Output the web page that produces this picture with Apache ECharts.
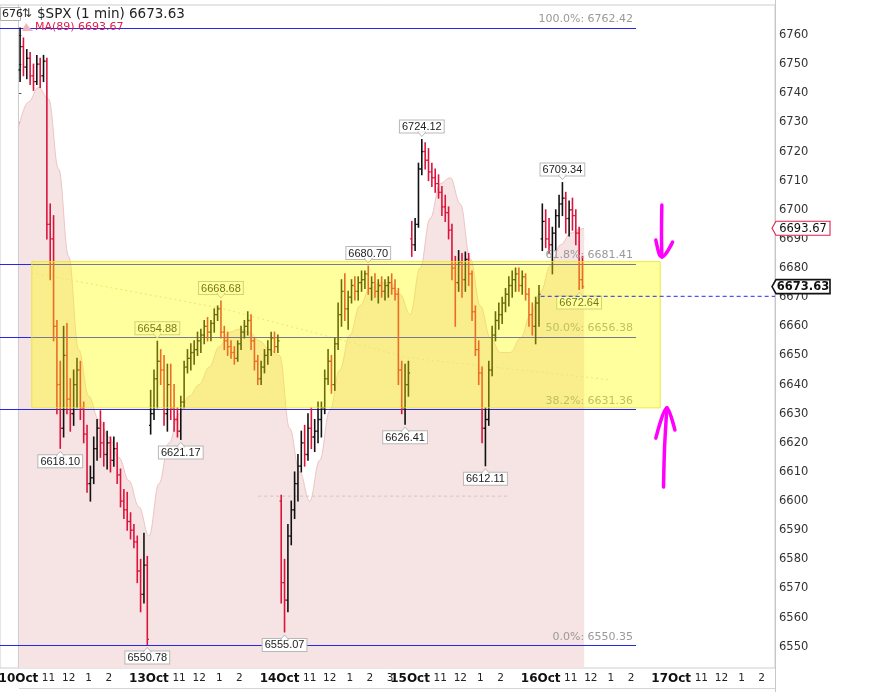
<!DOCTYPE html>
<html><head><meta charset="utf-8">
<script src="https://cdn.jsdelivr.net/npm/echarts@6/dist/echarts.min.js"></script>
<style>html,body{margin:0;padding:0;background:#fff}#c{width:881px;height:692px}</style>
</head><body><div id="c"></div>
<script>
// ---------------- DATA ----------------
const days = ['10Oct','13Oct','14Oct','15Oct','16Oct','17Oct'];
const hourLabels = ['11','12','1','2','3'];
const hourOffsets = [1.5, 2.5, 3.5, 4.5, 5.5];     // hours after the 9:30 open
const daysShowing3 = ['14Oct'];
const yTicks = [6550,6560,6570,6580,6590,6600,6610,6620,6630,6640,6650,6660,6670,6680,6690,6700,6710,6720,6730,6740,6750,6760];

// 10-minute OHLC bars: [open, high, low, close]
const bars10Oct = [
 [6748,6762.4,6744,6756],[6756,6759,6746,6749],[6749,6755,6745,6752],[6752,6754,6743,6746],
 [6746,6750,6741,6744],[6744,6753,6743,6750],[6750,6752,6742,6746],[6746,6753,6744,6751],
 [6751,6752,6690,6695],[6695,6702,6676,6690],[6690,6698,6655,6660],[6660,6662,6630,6640],
 [6640,6648,6618.10,6625],[6625,6660,6622,6650],[6650,6661,6630,6635],[6635,6642,6624,6630],
 [6630,6645,6626,6640],[6640,6649,6632,6645],[6645,6648,6628,6632],[6632,6634,6620,6623],
 [6623,6626,6603,6606],[6606,6612,6600,6608],[6608,6622,6606,6618],[6618,6628,6614,6625],
 [6625,6631,6615,6620],[6620,6627,6612,6616],[6616,6624,6611,6620],[6620,6622,6610,6614],
 [6614,6622,6612,6618],[6618,6620,6606,6609],[6609,6611,6598,6600],[6600,6604,6594,6597],
 [6597,6603,6590,6593],[6593,6596,6587,6590],[6590,6592,6584,6586],[6586,6588,6572,6576],
 [6576,6580,6562,6568],[6568,6589,6565,6578],[6578,6581,6550.78,6552.5]
];
const bars13Oct = [
 [6626,6638,6623,6630],[6630,6645,6628,6642],[6642,6654.88,6632,6648],[6648,6652,6640,6645],
 [6645,6650,6626,6630],[6630,6647,6624,6640],[6640,6647,6628,6632],[6632,6640,6624,6628],
 [6628,6632,6622,6624],[6624,6636,6621.17,6634],[6634,6648,6632,6646],[6646,6652,6644,6649],
 [6649,6654,6645,6651],[6651,6655,6647,6652],[6652,6658,6650,6655],[6655,6659,6651,6657],
 [6657,6662,6654,6660],[6660,6663,6655,6658],[6658,6662,6655,6661],[6661,6666,6658,6664],
 [6664,6667,6662,6666],[6666,6668.68,6656,6658],[6658,6660,6652,6655],[6655,6658,6650,6653],
 [6653,6655,6649,6651],[6651,6653,6647,6649],[6649,6655,6648,6654],[6654,6660,6652,6658],
 [6658,6662,6656,6660],[6660,6665,6657,6662],[6662,6664,6652,6655],[6655,6656,6645,6648],
 [6648,6650,6640,6642],[6642,6648,6640,6646],[6646,6652,6644,6650],[6650,6655,6647,6652],
 [6652,6658,6650,6656],[6656,6658,6651,6653],[6653,6657,6651,6655]
];
const bars14Oct = [
 [6600,6602,6565,6572],[6572,6580,6555.07,6566],[6566,6592,6562,6588],[6588,6600,6585,6597],
 [6597,6610,6594,6606],[6606,6616,6600,6612],[6612,6624,6610,6620],[6620,6626,6612,6616],
 [6616,6630,6614,6625],[6625,6632,6618,6622],[6622,6628,6617,6624],[6624,6634,6620,6628],
 [6628,6634,6622,6632],[6632,6645,6630,6642],[6642,6652,6640,6648],[6648,6650,6637,6640],
 [6640,6656,6638,6654],[6654,6668,6652,6664],[6664,6676,6660,6672],[6672,6678,6662,6666],
 [6666,6672,6659,6670],[6670,6676,6668,6674],[6674,6677,6669,6672],[6672,6677,6669,6675],
 [6675,6679,6672,6676],[6676,6679,6673,6678],[6678,6680.70,6671,6673],[6673,6677,6669,6675],
 [6675,6678,6670,6672],[6672,6676,6668,6674],[6674,6677,6670,6672],[6672,6676,6669,6674],
 [6674,6677,6670,6675],[6675,6678,6671,6673],[6673,6676,6669,6671],[6671,6673,6640,6645],
 [6645,6648,6630,6632],[6632,6647,6626.41,6640],[6640,6648,6636,6644]
];
const bars15Oct = [
 [6690,6696,6684,6688],[6688,6697,6686,6695],[6695,6716,6694,6714],[6714,6724.12,6712,6720],
 [6720,6723,6714,6717],[6717,6721,6710,6713],[6713,6716,6708,6711],[6711,6714,6706,6709],
 [6709,6712,6704,6706],[6706,6708,6698,6701],[6701,6705,6696,6699],[6699,6701,6690,6693],
 [6693,6695,6676,6680],[6680,6684,6660,6675],[6675,6686,6672,6682],[6682,6685,6670,6676],
 [6676,6685.5,6672,6683],[6683,6685,6674,6678],[6678,6679,6662,6665],[6665,6667,6650,6652],
 [6652,6655,6640,6644],[6644,6646,6620,6625],[6625,6632,6612.11,6628],[6628,6648,6626,6645],
 [6645,6660,6643,6657],[6657,6665,6655,6662],[6662,6668,6659,6664],[6664,6670,6661,6668],
 [6668,6673,6665,6671],[6671,6677,6667,6674],[6674,6679,6670,6676],[6676,6680,6672,6678],
 [6678,6680,6672,6674],[6674,6679,6671,6677],[6677,6678,6669,6671],[6671,6673,6660,6664],
 [6664,6668,6657,6660],[6660,6670,6654,6668],[6668,6674,6660,6671]
];
const bars16Oct = [
 [6690,6702,6686,6696],[6696,6700,6687,6690],[6690,6697,6685,6688],[6688,6694,6678,6692],
 [6692,6700,6686,6698],[6698,6705,6694,6702],[6702,6709.34,6698,6704],[6704,6706,6692,6697],
 [6697,6703,6691,6700],[6700,6704,6693,6698],[6698,6700,6688,6692],[6692,6694,6672.64,6676],
 [6676,6684,6673,6673.63]
];

// MA(89) read at half-hour marks: [minutes after open, value]
const ma10Oct = [[0,6728],[30,6737],[60,6742],[90,6738],[120,6714],[150,6684],[180,6652],[210,6636],[240,6628],[270,6622],[300,6615],[330,6607],[360,6598]];
const ma13Oct = [[0,6588],[30,6606],[60,6620],[90,6630],[120,6636],[150,6640],[180,6646],[210,6653],[240,6658],[270,6659],[300,6658],[330,6655],[360,6652]];
const ma14Oct = [[0,6650],[30,6625],[60,6610],[90,6600],[120,6614],[150,6631],[180,6645],[210,6657],[240,6667],[270,6673],[300,6675],[330,6675],[360,6671]];
const ma15Oct = [[0,6664],[30,6680],[60,6697],[90,6709],[120,6711],[150,6702],[180,6683],[210,6667],[240,6656],[270,6651],[300,6651],[330,6656],[360,6664]];
const ma16Oct = [[0,6672],[30,6681],[60,6688],[90,6692],[120,6693.4],[130,6693.67]];

// Fibonacci retracement
const fibLevels = ['100.0%','61.8%','50.0%','38.2%','0.0%'];
const fibValues = [6762.42, 6681.41, 6656.38, 6631.36, 6550.35];
const fibEnd = ['16Oct', 285];

// annotated highs / lows: [day, minutes after open, value, 1 = label below]
const callouts = [
 ['10Oct',125,6618.10,1],['10Oct',385,6550.78,1],['13Oct',25,6654.88,0],['13Oct',95,6621.17,1],
 ['13Oct',215,6668.68,0],['14Oct',15,6555.07,1],['14Oct',265,6680.70,0],['14Oct',375,6626.41,1],
 ['15Oct',35,6724.12,0],['15Oct',225,6612.11,1],['16Oct',65,6709.34,0],['16Oct',115,6672.64,1]
];

// zone, drawn lines
const zoneStart = ['10Oct', 40], zoneEnd = ['16Oct', 357];
const zoneLow = 6632.0, zoneHigh = 6682.2;
const lastPrice = 6673.63, maLast = 6693.67;
const dashedLevel = 6670.3, dashedStart = ['16Oct', 0];
const greyLevel = 6601.7, greyStart = ['13Oct', 326], greyEnd = ['15Oct', 299];
const trendPts = [['10Oct',40,6678.3],['13Oct',212,6666.3],['15Oct',0,6649.1],['16Oct',208,6641.6]];
// hand-drawn magenta arrows: [day, minutes, value]
const arrowDownShaft = [['16Oct',362,6701.6],['16Oct',361,6692],['16Oct',362,6683.8]];
const arrowDownHead  = [['16Oct',344,6689.6],['16Oct',355,6684.5],['16Oct',362,6683.8],['16Oct',394,6688.9]];
const arrowUpShaft   = [['16Oct',367,6604.8],['16Oct',370,6618],['16Oct',377,6632.0]];
const arrowUpHead    = [['16Oct',344,6621.6],['16Oct',377,6632.0],['16Oct',401,6624.4]];
const viewStart = ['10Oct', -55], viewEnd = ['17Oct', 310];
const yMin = 6542.7, yMax = 6770.3;

// ---------------- BUILD ----------------
const SESSION_H = 6.5;
const tOf = (d, m) => days.indexOf(d) * SESSION_H + m / 60;
const xMin = tOf(...viewStart), xMax = tOf(...viewEnd);
const barSets = [['10Oct',bars10Oct],['13Oct',bars13Oct],['14Oct',bars14Oct],['15Oct',bars15Oct],['16Oct',bars16Oct]];
const barData = [];
barSets.forEach(([d, arr]) => arr.forEach((b, i) => barData.push([tOf(d, i*10+5), b[0], b[1], b[2], b[3]])));
const maSets = [['10Oct',ma10Oct],['13Oct',ma13Oct],['14Oct',ma14Oct],['15Oct',ma15Oct],['16Oct',ma16Oct]];
const maData = [];
maSets.forEach(([d, arr]) => arr.forEach(p => maData.push([tOf(d, p[0]), p[1]])));

const xTicks = [];
days.forEach((d, di) => {
  xTicks.push({v: di*SESSION_H, text: d, day: true});
  hourLabels.forEach((h, hi) => {
    if (h === '3' && !daysShowing3.includes(d)) return;
    xTicks.push({v: di*SESSION_H + hourOffsets[hi], text: h, day: false});
  });
});
const xTickVals = xTicks.map(t => t.v);

const toPts = arr => arr.map(p => [tOf(p[0], p[1]), p[2]]);
const arrowSeries = [arrowDownShaft, arrowDownHead, arrowUpShaft, arrowUpHead].map(a => ({
  type:'line', data: toPts(a), symbol:'none', smooth:0.3, silent:true, z:12,
  lineStyle:{color:'#ff00ff', width:3.5, cap:'round', join:'round'}
}));

const FONT = 'DejaVu Sans';
const chart = echarts.init(document.getElementById('c'), null, {renderer:'canvas'});
chart.setOption({
  animation:false,
  backgroundColor:'#fff',
  grid:{left:0, right:106, top:5, bottom:24, containLabel:false, outerBoundsMode:'none',
        show:true, borderColor:'#cdcdcd', borderWidth:1},
  xAxis:{type:'value', min:xMin, max:xMax,
    axisLine:{show:false}, axisTick:{show:false}, splitLine:{show:false},
    axisLabel:{customValues:xTickVals, margin:5, hideOverlap:false,
      formatter:(v)=>{ const t = xTicks.find(k=>Math.abs(k.v-v)<1e-6); if(!t) return ''; return t.day ? '{d|'+t.text+'}' : '{h|'+t.text+'}'; },
      rich:{d:{fontFamily:FONT, fontWeight:'bold', fontSize:12, color:'#111'}, h:{fontFamily:FONT, fontSize:10.5, color:'#222'}}}
  },
  yAxis:{type:'value', position:'right', min:yMin, max:yMax,
    axisLine:{show:true, lineStyle:{color:'#c8c8c8'}},
    axisTick:{show:true, customValues:yTicks, length:3, lineStyle:{color:'#555'}},
    axisLabel:{customValues:yTicks, margin:4, fontFamily:FONT, fontSize:11.5, color:'#333', formatter:(v)=>String(v)},
    splitLine:{show:false}
  },
  graphic:[
    {type:'line', shape:{x1:775.5,y1:0,x2:775.5,y2:692}, style:{stroke:'#c8c8c8'}, silent:true},
    {type:'line', shape:{x1:19,y1:688.5,x2:775,y2:688.5}, style:{stroke:'#d4d4d4'}, silent:true},
    {type:'rect', shape:{x:0.5,y:7.5,width:20,height:13}, style:{fill:'#fff', stroke:'#b0b0b0'}, z:100},
    {type:'text', x:2, y:14, style:{text:'676', font:'11px "DejaVu Sans"', fill:'#222', verticalAlign:'middle'}, z:101},
    {type:'text', x:22, y:14, style:{text:'⇅', font:'12px "DejaVu Sans"', fill:'#333', verticalAlign:'middle'}, z:101},
    {type:'text', x:37, y:14, style:{text:'$SPX (1 min) 6673.63', font:'13.5px "DejaVu Sans"', fill:'#222', verticalAlign:'middle'}, z:101},
    {type:'polygon', shape:{points:[[22,31],[26,23],[29,27],[33,31]]}, style:{fill:'#f3b4c0'}, z:101},
    {type:'text', x:35, y:27, style:{text:'MA(89) 6693.67', font:'11px "DejaVu Sans"', fill:'#e0204e', verticalAlign:'middle'}, z:101}
  ],
  series:[
    // MA(89) area
    {type:'line', data:maData, smooth:0.4, smoothMonotone:'x', symbol:'none', silent:true, z:1,
     lineStyle:{color:'#efc3c3', width:1}, areaStyle:{color:'#f6e3e3', opacity:1, origin:'start'}},
    // left session start line
    {type:'line', data:[[0,yMin],[0,yMax]], symbol:'none', silent:true, z:2, lineStyle:{color:'#cfcfcf', width:1}},
    // fib lines
    {type:'line', data:[], silent:true, z:2,
     markLine:{silent:true, z:3, symbol:['none','none'], animation:false,
       data: fibValues.map((v,i)=>[
         {coord:[xMin, v], lineStyle:{color:'#2626ee', width:1, type:'solid'},
          label:{show:true, position:'insideEndTop', distance:3, formatter: fibLevels[i]+': '+v.toFixed(2), color:'#999', fontFamily:FONT, fontSize:11}},
         {coord:[tOf(...fibEnd), v]}
       ])}},
    // grey dashed
    {type:'line', data:[[tOf(...greyStart), greyLevel],[tOf(...greyEnd), greyLevel]], symbol:'none', silent:true, z:2,
     lineStyle:{color:'#cfc4c4', width:1, type:[3,3]}},
    // faint trend
    {type:'line', data:toPts(trendPts), symbol:'none', silent:true, z:2,
     lineStyle:{color:'#e2d9b0', width:1, type:[2,3]}},
    // price bars
    {type:'custom', data:barData, z:3, silent:true, encode:{x:0, y:[1,2,3,4]},
     renderItem:(params, api)=>{
       const t=api.value(0), o=api.value(1), h=api.value(2), l=api.value(3), c=api.value(4);
       const pH=api.coord([t,h]), pL=api.coord([t,l]), pO=api.coord([t,o]), pC=api.coord([t,c]);
       const w = api.size([1/6,0])[0]*0.5;
       const col = c >= o ? '#111' : '#dc143c';
       return {type:'group', children:[
         {type:'line', shape:{x1:pH[0],y1:pH[1]-0.5,x2:pL[0],y2:pL[1]+0.5}, style:{stroke:col, lineWidth:1.6}},
         {type:'line', shape:{x1:pO[0]-w,y1:pO[1],x2:pO[0],y2:pO[1]}, style:{stroke:col, lineWidth:1.3}},
         {type:'line', shape:{x1:pC[0],y1:pC[1],x2:pC[0]+w,y2:pC[1]}, style:{stroke:col, lineWidth:1.3}}
       ]};
     }},
    // callouts
    {type:'custom', data:callouts.map(c=>[tOf(c[0],c[1]), c[2], c[3]]), z:4, silent:true, encode:{x:0,y:1},
     renderItem:(params, api)=>{
       const p = api.coord([api.value(0), api.value(1)]);
       const below = api.value(2) === 1;
       const txt = api.value(1).toFixed(2);
       const ty = below ? p[1]+7 : p[1]-7;
       const tri = below ? [[p[0]-4,ty+0.5],[p[0],ty-4],[p[0]+4,ty+0.5]] : [[p[0]-4,ty-0.5],[p[0],ty+4],[p[0]+4,ty-0.5]];
       return {type:'group', children:[
         {type:'text', x:p[0], y:ty, style:{text:txt, font:'11px "Liberation Sans"', fill:'#222', align:'center',
           verticalAlign: below?'top':'bottom', backgroundColor:'#fff', borderColor:'#b8b8b8', borderWidth:1, padding:[1,2,0,2]}},
         {type:'polygon', shape:{points:tri}, style:{fill:'#fff', stroke:'#b8b8b8', lineWidth:1}},
         {type:'line', shape:{x1:tri[0][0]+1,y1:tri[0][1],x2:tri[2][0]-1,y2:tri[2][1]}, style:{stroke:'#fff', lineWidth:1.5}}
       ]};
     }},
    // yellow zone
    {type:'line', data:[], silent:true, z:10,
     markArea:{silent:true, z:10, itemStyle:{color:'rgba(255,255,0,0.38)', borderColor:'rgba(236,232,40,0.9)', borderWidth:1},
       data:[[{coord:[tOf(...zoneStart), zoneLow]},{coord:[tOf(...zoneEnd), zoneHigh]}]]}},
    // dashed last line
    {type:'line', data:[[tOf(...dashedStart), dashedLevel],[xMax, dashedLevel]], symbol:'none', silent:true, z:11,
     lineStyle:{color:'#2a2af0', width:1, type:[4,3]}},
    ...arrowSeries,
    // right-axis tags
    {type:'custom', data:[[xMax, maLast, 0],[xMax, lastPrice, 1]], z:12, silent:true, clip:false, encode:{x:0,y:1},
     renderItem:(params, api)=>{
       const cs = params.coordSys;
       const y = api.coord([api.value(0), api.value(1)])[1];
       const isLast = api.value(2) === 1;
       const x0 = cs.x + cs.width + 1, x1 = x0 + 54, hh = 7;
       const col = isLast ? '#111' : '#e0204e';
       return {type:'group', children:[
         {type:'polygon', shape:{points:[[x0-4,y],[x0,y-hh],[x1,y-hh],[x1,y+hh],[x0,y+hh]]}, style:{fill:'#fff', stroke:col, lineWidth:isLast?1.6:1.1}},
         {type:'text', x:(x0+x1)/2, y:y+0.5, style:{text:api.value(1).toFixed(2), font:(isLast?'bold ':'')+'11.5px "DejaVu Sans"', fill:'#111', align:'center', verticalAlign:'middle'}}
       ]};
     }}
  ]
});
</script></body></html>
